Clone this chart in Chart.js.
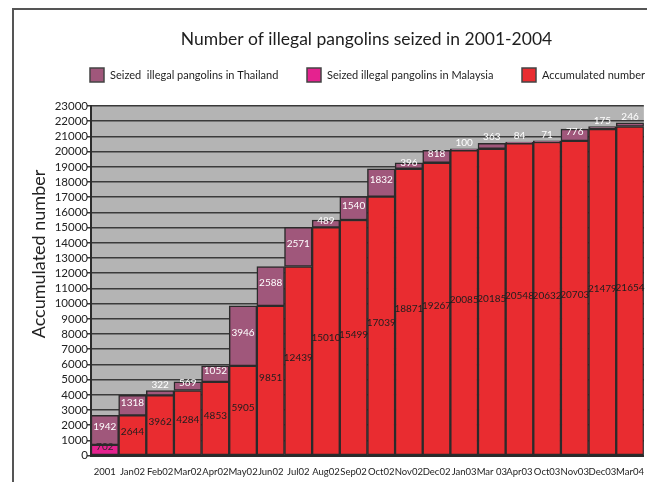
<!DOCTYPE html>
<html>
<head>
<meta charset="utf-8">
<script src="https://cdn.jsdelivr.net/npm/chart.js@4.4.0/dist/chart.umd.min.js"></script>
<style>
  html, body { margin: 0; padding: 0; background: #fff; }
  #wrap { width: 647px; height: 482px; position: relative; }
</style>
</head>
<body>
<div id="wrap"><canvas id="pangolinChart"></canvas></div>
<script>
// data
const months = ['2001', 'Jan02', 'Feb02', 'Mar02', 'Apr02', 'May02', 'Jun02', 'Jul02', 'Aug02', 'Sep02',
  'Oct02', 'Nov02', 'Dec02', 'Jan03', 'Mar 03', 'Apr03', 'Oct03', 'Nov03', 'Dec03', 'Mar04'];
const accumulated = [null, 2644, 3962, 4284, 4853, 5905, 9851, 12439, 15010, 15499,
  17039, 18871, 19267, 20085, 20185, 20548, 20632, 20703, 21479, 21654];
const malaysia = [702, null, null, null, null, null, null, null, null, null,
  null, null, null, null, null, null, null, null, null, null];
const thailand = [1942, 1318, 322, 569, 1052, 3946, 2588, 2571, 489, 1540,
  1832, 396, 818, 100, 363, 84, 71, 776, 175, 246];
const yMax = 23000;
const yStep = 1000;

const font = "Lato, 'Open Sans', sans-serif";

// grey plot area, page frame, y tick labels, y title and legend row
const backdrop = {
  id: 'backdrop',
  beforeDraw(chart) {
    const c = chart.ctx, a = chart.chartArea;
    c.save();
    c.fillStyle = '#b4b4b4';
    c.fillRect(a.left, a.top, a.right - a.left, a.bottom - a.top);
    c.restore();
  },
  afterDraw(chart) {
    const c = chart.ctx, a = chart.chartArea, ys = chart.scales.y;
    c.save();
    // frame
    c.strokeStyle = '#555';
    c.lineWidth = 2;
    c.beginPath();
    c.moveTo(13, 482);
    c.lineTo(13, 9);
    c.lineTo(647, 9);
    c.stroke();

    // y tick labels
    c.fillStyle = '#222';
    c.font = '11.5px ' + font;
    c.textAlign = 'right';
    c.textBaseline = 'middle';
    ys.ticks.forEach(t => {
      c.fillText(String(t.value), a.left - 3, ys.getPixelForValue(t.value));
    });

    // legend, in the picture's order
    c.font = '11px ' + font;
    c.textAlign = 'left';
    const order = [2, 1, 0];
    const boxX = [90, 307, 522];
    order.forEach((di, k) => {
      const ds = chart.data.datasets[di];
      c.fillStyle = ds.backgroundColor;
      c.fillRect(boxX[k], 68, 14, 14);
      c.strokeStyle = '#444';
      c.lineWidth = 1.5;
      c.strokeRect(boxX[k], 68, 14, 14);
      c.fillStyle = '#1e1e1e';
      c.fillText(ds.label, boxX[k] + 20, 75);
    });

    // y title
    c.translate(39, 254);
    c.rotate(-Math.PI / 2);
    c.fillStyle = '#222';
    c.font = '18px ' + font;
    c.textAlign = 'center';
    c.textBaseline = 'middle';
    c.fillText('Accumulated number', 0, 0);
    c.restore();
  }
};

// numbers written on the bars
const barLabels = {
  id: 'barLabels',
  afterDatasetsDraw(chart) {
    const c = chart.ctx;
    c.save();
    c.font = '10px ' + font;
    c.textAlign = 'center';
    c.textBaseline = 'middle';
    chart.data.datasets.forEach((ds, i) => {
      const meta = chart.getDatasetMeta(i);
      meta.data.forEach((bar, j) => {
        const v = ds.data[j];
        if (v == null) return;
        const top = Math.min(bar.y, bar.base);
        const h = Math.abs(bar.base - bar.y);
        let y = top + h / 2 - 3;
        if (h < 6) y = top - 6;
        c.fillStyle = ds.labelColor;
        c.fillText(String(v), bar.x, y);
      });
    });
    c.restore();
  }
};

const ctx = document.getElementById('pangolinChart').getContext('2d');
new Chart(ctx, {
  type: 'bar',
  data: {
    labels: months,
    datasets: [
      {
        label: 'Accumulated number',
        data: accumulated,
        backgroundColor: '#e92c30',
        labelColor: '#1e1e1e'
      },
      {
        label: 'Seized illegal pangolins in Malaysia',
        data: malaysia,
        backgroundColor: '#e5228f',
        labelColor: '#2a2a2a'
      },
      {
        label: 'Seized  illegal pangolins in Thailand',
        data: thailand,
        backgroundColor: '#a0577b',
        labelColor: '#ffffff'
      }
    ]
  },
  options: {
    responsive: true,
    maintainAspectRatio: false,
    animation: false,
    datasets: {
      bar: {
        categoryPercentage: 1,
        barPercentage: 1,
        borderColor: '#2b2b2b',
        borderWidth: 1.5,
        borderSkipped: false
      }
    },
    layout: { padding: { left: 87, right: 1, bottom: 1, top: 0 } },
    plugins: {
      title: {
        display: true,
        text: 'Number of illegal pangolins seized in 2001-2004',
        color: '#1e1e1e',
        font: { family: font, size: 17.5, weight: 'normal' },
        padding: { top: 29, bottom: 56 }
      },
      legend: { display: false },
      tooltip: { enabled: false }
    },
    scales: {
      x: {
        stacked: true,
        grid: { display: false },
        border: { color: '#2b2b2b', width: 2 },
        ticks: { color: '#222', font: { family: font, size: 9.5 }, maxRotation: 0, autoSkip: false, padding: 3 }
      },
      y: {
        stacked: true,
        min: 0,
        max: yMax,
        grid: { color: '#3a3a3a', lineWidth: 1.5, tickLength: 4 },
        border: { color: '#2b2b2b', width: 2 },
        ticks: { stepSize: yStep, display: false }
      }
    }
  },
  plugins: [backdrop, barLabels]
});
</script>
</body>
</html>
